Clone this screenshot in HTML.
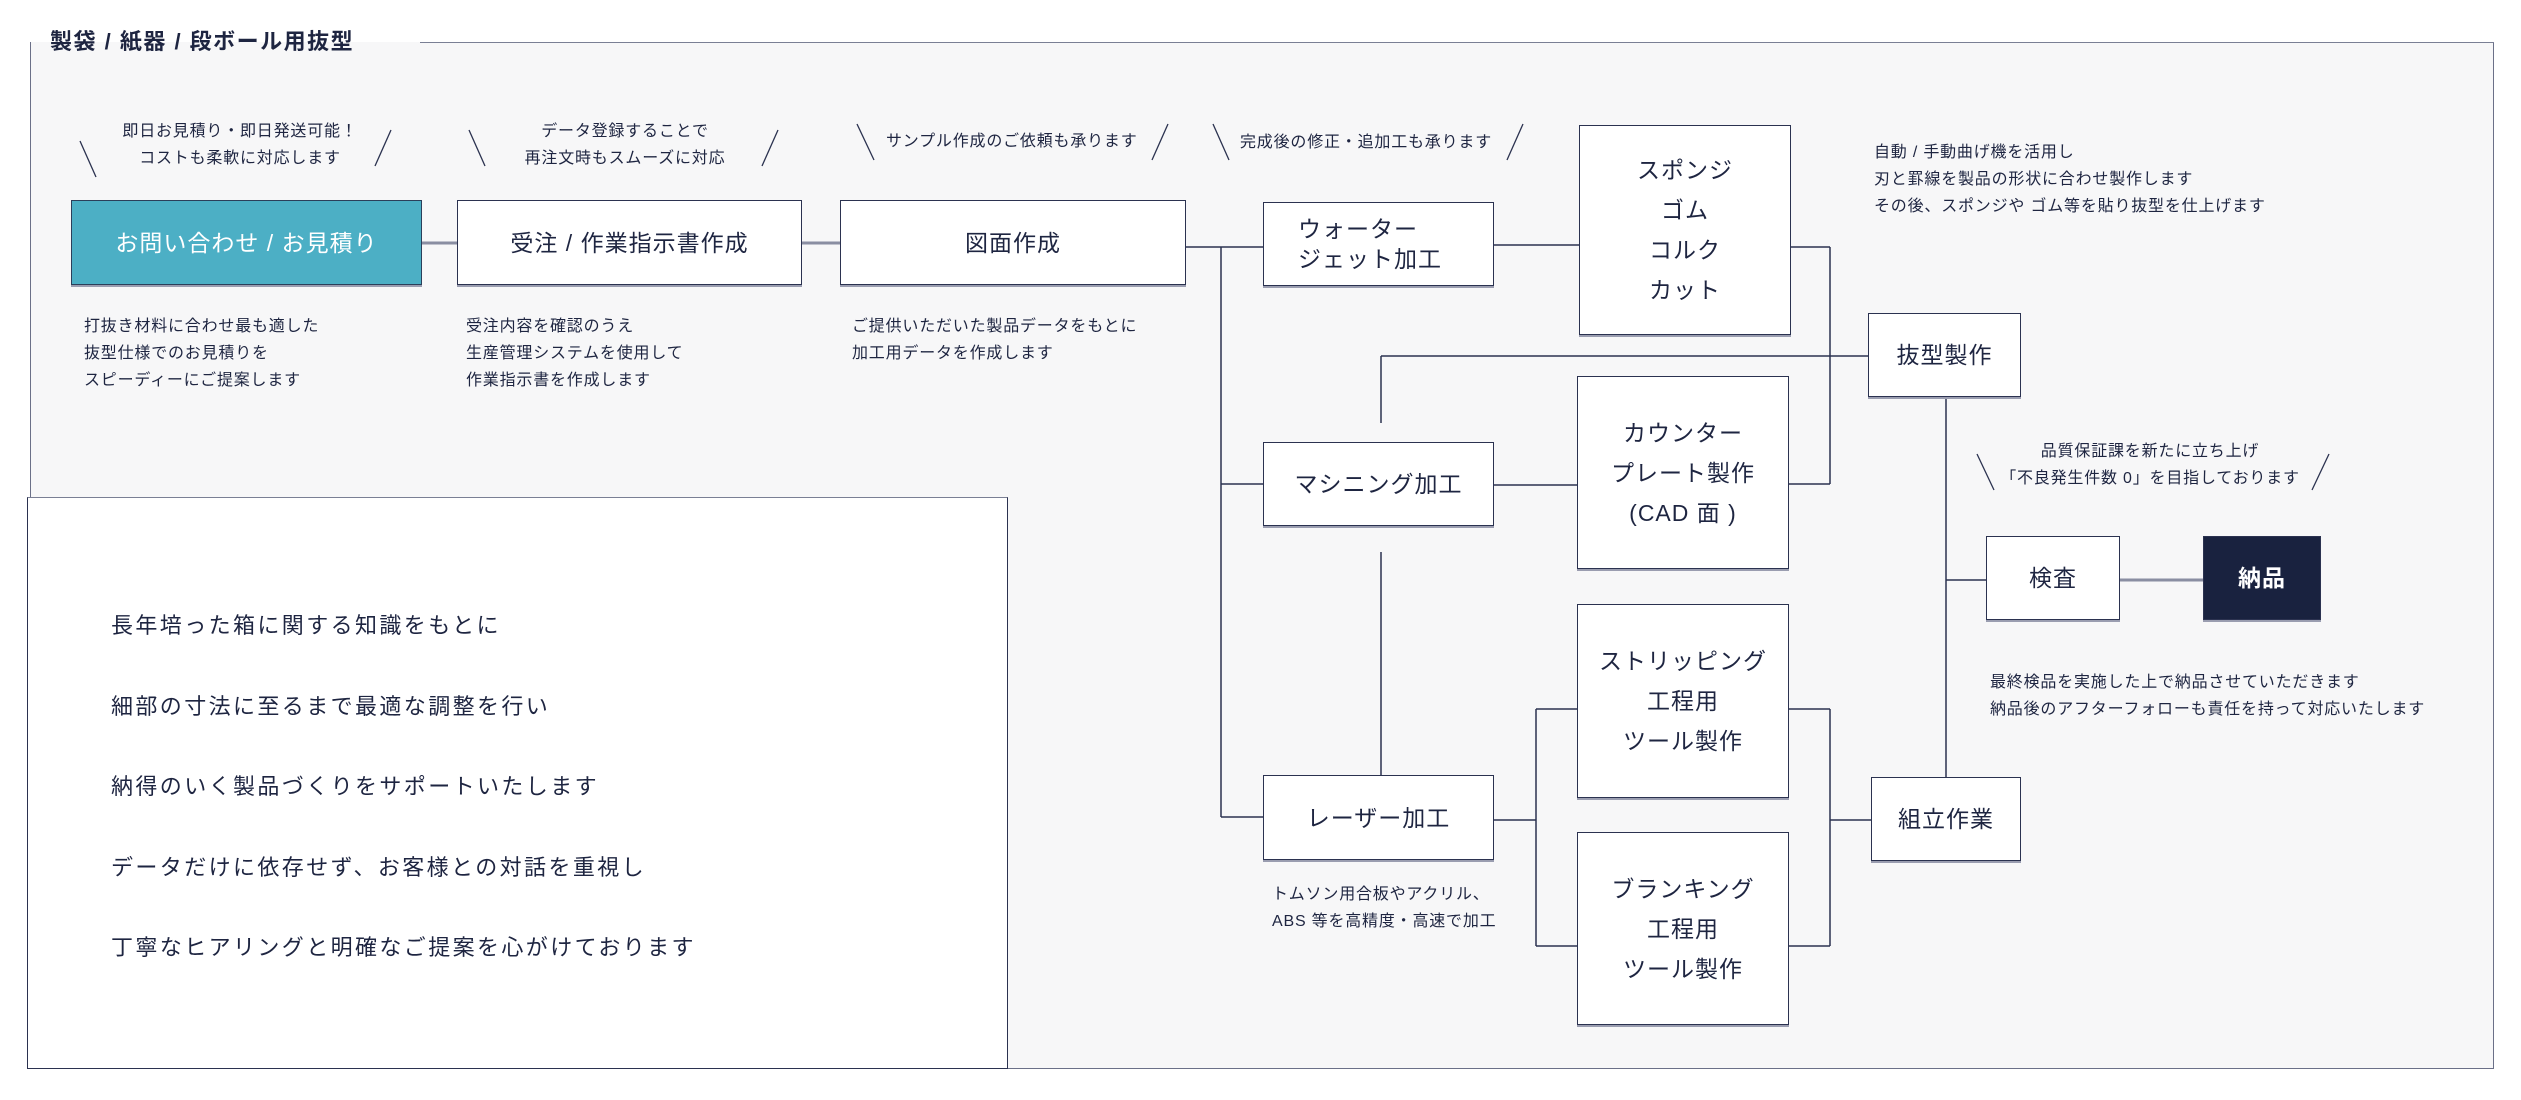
<!DOCTYPE html>
<html><head><meta charset="utf-8"><style>
*{margin:0;padding:0;box-sizing:border-box}
body{width:2521px;height:1100px;background:#fff;position:relative;overflow:hidden;font-family:"Liberation Sans","Noto Sans CJK JP",sans-serif;color:#1e2541}
.frame{position:absolute;left:30px;top:42px;width:2464px;height:1027px;background:#f7f7f8;border:1.5px solid #6b7088;border-top:none}
.t{position:absolute;white-space:nowrap}
.box{position:absolute;background:#fff;border:1.5px solid #2b3250;box-shadow:0 2px 0 #9a9db0;display:flex;align-items:center;justify-content:center;text-align:center;font-size:23px;line-height:40px;letter-spacing:1px}
.n{font-size:16px;letter-spacing:.8px;line-height:27px}
svg{position:absolute;left:0;top:0}
</style></head><body>
<div class="frame"></div>
<div style="position:absolute;left:420px;top:42px;width:2074px;height:0;border-top:1.5px solid #7a7f94"></div>
<div class="t" style="left:50px;top:26px;font-size:22px;font-weight:bold;letter-spacing:1.5px;height:32px;line-height:32px">製袋 / 紙器 / 段ボール用抜型</div>

<svg width="2521" height="1100">
<g stroke="#2b3250" stroke-width="1.3" fill="none">
<line x1="80" y1="141" x2="96" y2="177"/><line x1="391" y1="130" x2="375" y2="166"/>
<line x1="469" y1="130" x2="485" y2="166"/><line x1="778" y1="130" x2="762" y2="166"/>
<line x1="857" y1="124" x2="874" y2="160"/><line x1="1168" y1="124" x2="1152" y2="160"/>
<line x1="1213" y1="124" x2="1229" y2="160"/><line x1="1523" y1="124" x2="1507" y2="160"/>
<line x1="1977" y1="454" x2="1994" y2="490"/><line x1="2329" y1="454" x2="2312" y2="490"/>
</g>
<g stroke="#8a8ea2" stroke-width="3" fill="none">
<line x1="422" y1="243" x2="457" y2="243"/><line x1="802" y1="243" x2="840" y2="243"/>
<line x1="2120" y1="580" x2="2203" y2="580"/>
</g>
<g stroke="#2b3250" stroke-width="1.5" fill="none">
<line x1="1186" y1="247" x2="1263" y2="247"/>
<line x1="1221" y1="247" x2="1221" y2="817"/>
<line x1="1221" y1="484" x2="1263" y2="484"/>
<line x1="1221" y1="817" x2="1263" y2="817"/>
<line x1="1494" y1="245" x2="1579" y2="245"/>
<line x1="1791" y1="247" x2="1830" y2="247"/>
<line x1="1830" y1="247" x2="1830" y2="484"/>
<line x1="1789" y1="484" x2="1830" y2="484"/>
<line x1="1494" y1="485" x2="1577" y2="485"/>
<line x1="1381" y1="356" x2="1868" y2="356"/>
<line x1="1381" y1="356" x2="1381" y2="423"/>
<line x1="1381" y1="552" x2="1381" y2="775"/>
<line x1="1946" y1="397" x2="1946" y2="777"/>
<line x1="1946" y1="580" x2="1986" y2="580"/>
<line x1="1494" y1="820" x2="1536" y2="820"/>
<line x1="1536" y1="709" x2="1536" y2="946"/>
<line x1="1536" y1="709" x2="1577" y2="709"/><line x1="1536" y1="946" x2="1577" y2="946"/>
<line x1="1789" y1="709" x2="1830" y2="709"/><line x1="1789" y1="946" x2="1830" y2="946"/>
<line x1="1830" y1="709" x2="1830" y2="946"/>
<line x1="1830" y1="820" x2="1871" y2="820"/>
</g>
</svg>

<div class="t n" style="left:120px;top:118px;text-align:center;width:240px">即日お見積り・即日発送可能！<br>コストも柔軟に対応します</div>
<div class="t n" style="left:505px;top:118px;text-align:center;width:240px">データ登録することで<br>再注文時もスムーズに対応</div>
<div class="t n" style="left:886px;top:128px">サンプル作成のご依頼も承ります</div>
<div class="t n" style="left:1240px;top:129px">完成後の修正・追加工も承ります</div>

<div class="box" style="left:71px;top:200px;width:351px;height:85px;background:#4cafc5;color:#fff;border-color:#2b3f5a">お問い合わせ / お見積り</div>
<div class="box" style="left:457px;top:200px;width:345px;height:85px">受注 / 作業指示書作成</div>
<div class="box" style="left:840px;top:200px;width:346px;height:85px">図面作成</div>

<div class="t n" style="left:84px;top:313px">打抜き材料に合わせ最も適した<br>抜型仕様でのお見積りを<br>スピーディーにご提案します</div>
<div class="t n" style="left:466px;top:313px">受注内容を確認のうえ<br>生産管理システムを使用して<br>作業指示書を作成します</div>
<div class="t n" style="left:852px;top:313px">ご提供いただいた製品データをもとに<br>加工用データを作成します</div>

<div class="box" style="left:1263px;top:202px;width:231px;height:84px;justify-content:flex-start;text-align:left;padding-left:34px;line-height:30px">ウォーター<br>ジェット加工</div>
<div class="box" style="left:1579px;top:125px;width:212px;height:210px">スポンジ<br>ゴム<br>コルク<br>カット</div>
<div class="t n" style="left:1874px;top:139px">自動 / 手動曲げ機を活用し<br>刃と罫線を製品の形状に合わせ製作します<br>その後、スポンジや ゴム等を貼り抜型を仕上げます</div>
<div class="box" style="left:1868px;top:313px;width:153px;height:84px">抜型製作</div>
<div class="box" style="left:1577px;top:376px;width:212px;height:193px">カウンター<br>プレート製作<br>(CAD 面 )</div>
<div class="box" style="left:1263px;top:442px;width:231px;height:84px">マシニング加工</div>
<div class="t n" style="left:1990px;top:438px;text-align:center;width:320px">品質保証課を新たに立ち上げ<br>「不良発生件数 0」を目指しております</div>
<div class="box" style="left:1986px;top:536px;width:134px;height:84px">検査</div>
<div class="box" style="left:2203px;top:536px;width:118px;height:84px;background:#19223f;color:#fff;font-weight:bold">納品</div>
<div class="box" style="left:1577px;top:604px;width:212px;height:194px">ストリッピング<br>工程用<br>ツール製作</div>
<div class="t n" style="left:1990px;top:669px">最終検品を実施した上で納品させていただきます<br>納品後のアフターフォローも責任を持って対応いたします</div>
<div class="box" style="left:1263px;top:775px;width:231px;height:85px">レーザー加工</div>
<div class="box" style="left:1871px;top:777px;width:150px;height:84px">組立作業</div>
<div class="t n" style="left:1272px;top:881px">トムソン用合板やアクリル、<br>ABS 等を高精度・高速で加工</div>
<div class="box" style="left:1577px;top:832px;width:212px;height:193px">ブランキング<br>工程用<br>ツール製作</div>

<div style="position:absolute;left:27px;top:497px;width:981px;height:572px;background:#fff;border:1.5px solid #2b3250;border-top-color:#7a7f94"></div>
<div class="t" style="left:111px;top:586px;font-size:22px;letter-spacing:2.4px;line-height:80.5px">長年培った箱に関する知識をもとに<br>細部の寸法に至るまで最適な調整を行い<br>納得のいく製品づくりをサポートいたします<br>データだけに依存せず、お客様との対話を重視し<br>丁寧なヒアリングと明確なご提案を心がけております</div>
</body></html>
